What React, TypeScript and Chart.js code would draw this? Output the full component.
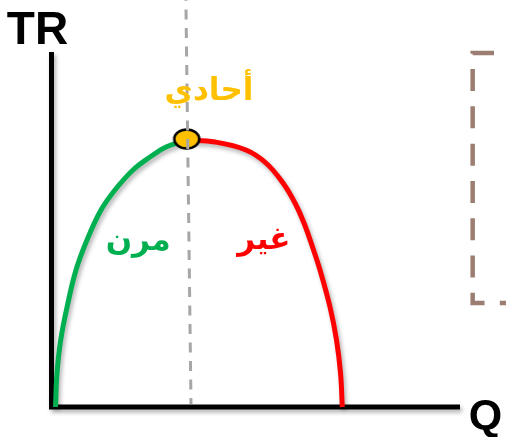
import React, { useEffect, useRef } from "react";
import { Chart, registerables } from "chart.js";

Chart.register(...registerables);

// Elastic (green) part of the TR curve: quantity and total revenue (arbitrary units)
const Q_ELASTIC = [0.98, 1.35, 2.25, 3.92, 6.0, 8.69, 12.12, 15.54, 19.95, 24.11, 28.03, 33.17];
const TR_ELASTIC = [0, 9.58, 18.87, 28.73, 38.59, 47.04, 55.49, 61.13, 66.76, 70.42, 73.24, 75.21];
// Inelastic (red) part
const Q_INELASTIC = [33.17, 40.02, 47.61, 52.5, 56.67, 59.61, 61.81, 64.14, 65.73, 68.18, 69.77, 70.75, 71.19];
const TR_INELASTIC = [75.21, 74.65, 72.39, 68.73, 63.1, 57.46, 51.83, 44.23, 38.59, 28.17, 18.87, 9.58, 0];
// Unit-elastic point (maximum TR)
const Q_UNIT = [33.1];
const TR_UNIT = [75.5];
// Vertical guide through the maximum
const Q_GUIDE = [34.15, 32.9];
const TR_GUIDE = [0.85, 114.6];
// Axes
const Q_AXES = [0, 0, 100];
const TR_AXES = [100, 0, 0];
// Dashed text-box edge at the right
const Q_BOX = [117.45, 103.1, 103.1, 119.6];
const TR_BOX = [99.7, 99.7, 29.3, 29.3];

// Labels
const LABEL_TEXTS = ["TR", "Q", "أحادي", "مرن", "غير"];
const LABEL_Q = [-3.43, 106.24, 38.56, 21.2, 52.0];
const LABEL_TR = [102.25, -6.2, 86.5, 44.2, 44.5];

const LABEL_STYLES = [
  { color: "#000000", font: "bold 46px 'Liberation Sans', Arial, sans-serif" },
  { color: "#000000", font: "bold 43px 'Liberation Sans', Arial, sans-serif" },
  { color: "#FFC000", font: "bold 31px 'DejaVu Sans', sans-serif" },
  { color: "#00B050", font: "bold 31px 'DejaVu Sans', sans-serif" },
  { color: "#FF0000", font: "bold 31px 'DejaVu Sans', sans-serif" },
];

const pts = (xs: number[], ys: number[]) => xs.map((x, i) => ({ x, y: ys[i] }));

function makeMarker(): HTMLCanvasElement {
  const c = document.createElement("canvas");
  c.width = 30;
  c.height = 24;
  const ctx = c.getContext("2d")!;
  ctx.beginPath();
  ctx.ellipse(15, 12, 12.5, 9.5, 0, 0, Math.PI * 2);
  ctx.fillStyle = "#FFC000";
  ctx.fill();
  ctx.lineWidth = 2.5;
  ctx.strokeStyle = "#000000";
  ctx.stroke();
  return c;
}

export default function App() {
  const ref = useRef<HTMLCanvasElement | null>(null);

  useEffect(() => {
    document.body.style.margin = "0";
    const canvas = ref.current;
    if (!canvas) return;

    const SHADOWED = new Set([2, 3, 4]);

    const shadowPlugin = {
      id: "shadows",
      beforeDatasetDraw(chart: any, args: any) {
        const ctx = chart.ctx;
        ctx.save();
        if (SHADOWED.has(args.index)) {
          ctx.shadowColor = "rgba(0,0,0,0.3)";
          ctx.shadowBlur = 4;
          ctx.shadowOffsetX = 2;
          ctx.shadowOffsetY = 3;
        }
      },
      afterDatasetDraw(chart: any) {
        chart.ctx.restore();
      },
    };

    const labelPlugin = {
      id: "labels",
      afterDraw(chart: any) {
        const ctx = chart.ctx;
        const xs = chart.scales.x;
        const ys = chart.scales.y;
        ctx.save();
        ctx.textAlign = "center";
        ctx.textBaseline = "alphabetic";
        LABEL_TEXTS.forEach((t, i) => {
          ctx.font = LABEL_STYLES[i].font;
          ctx.fillStyle = LABEL_STYLES[i].color;
          ctx.fillText(t, xs.getPixelForValue(LABEL_Q[i]), ys.getPixelForValue(LABEL_TR[i]));
        });
        ctx.restore();
      },
    };

    const chart = new Chart(canvas, {
      type: "line",
      data: {
        datasets: [
          {
            data: pts(Q_GUIDE, TR_GUIDE),
            borderColor: "#A6A6A6",
            borderWidth: 3,
            borderDash: [10, 8.5],
            borderDashOffset: 4,
            pointRadius: 0,
            clip: false,
          } as any,
          {
            data: pts(Q_UNIT, TR_UNIT),
            showLine: false,
            pointStyle: makeMarker(),
            pointRadius: 12,
            clip: false,
          },
          {
            data: pts(Q_ELASTIC, TR_ELASTIC),
            borderColor: "#00B050",
            borderWidth: 5,
            tension: 0.4,
            pointRadius: 0,
            clip: false,
          },
          {
            data: pts(Q_INELASTIC, TR_INELASTIC),
            borderColor: "#FF0000",
            borderWidth: 5,
            tension: 0.4,
            pointRadius: 0,
            clip: false,
          },
          {
            data: pts(Q_AXES, TR_AXES),
            borderColor: "#000000",
            borderWidth: 5,
            borderJoinStyle: "miter",
            tension: 0,
            pointRadius: 0,
            clip: false,
          },
          {
            data: pts(Q_BOX, TR_BOX),
            borderColor: "#9B7D71",
            borderWidth: 4.5,
            borderDash: [22, 15.3],
            borderJoinStyle: "miter",
            tension: 0,
            pointRadius: 0,
            clip: false,
          } as any,
        ],
      },
      options: {
        animation: false,
        responsive: false,
        devicePixelRatio: 1,
        events: [],
        layout: { padding: { left: 51.5, right: 46, top: 52, bottom: 30 } },
        scales: {
          x: { type: "linear", min: 0, max: 100, display: false },
          y: { type: "linear", min: 0, max: 100, display: false },
        },
        plugins: {
          legend: { display: false },
          tooltip: { enabled: false },
        },
      },
      plugins: [shadowPlugin, labelPlugin],
    });

    return () => chart.destroy();
  }, []);

  return (
    <div style={{ position: "absolute", left: 0, top: 0, width: 506, height: 437, background: "#fff" }}>
      <canvas ref={ref} width={506} height={437} />
    </div>
  );
}
